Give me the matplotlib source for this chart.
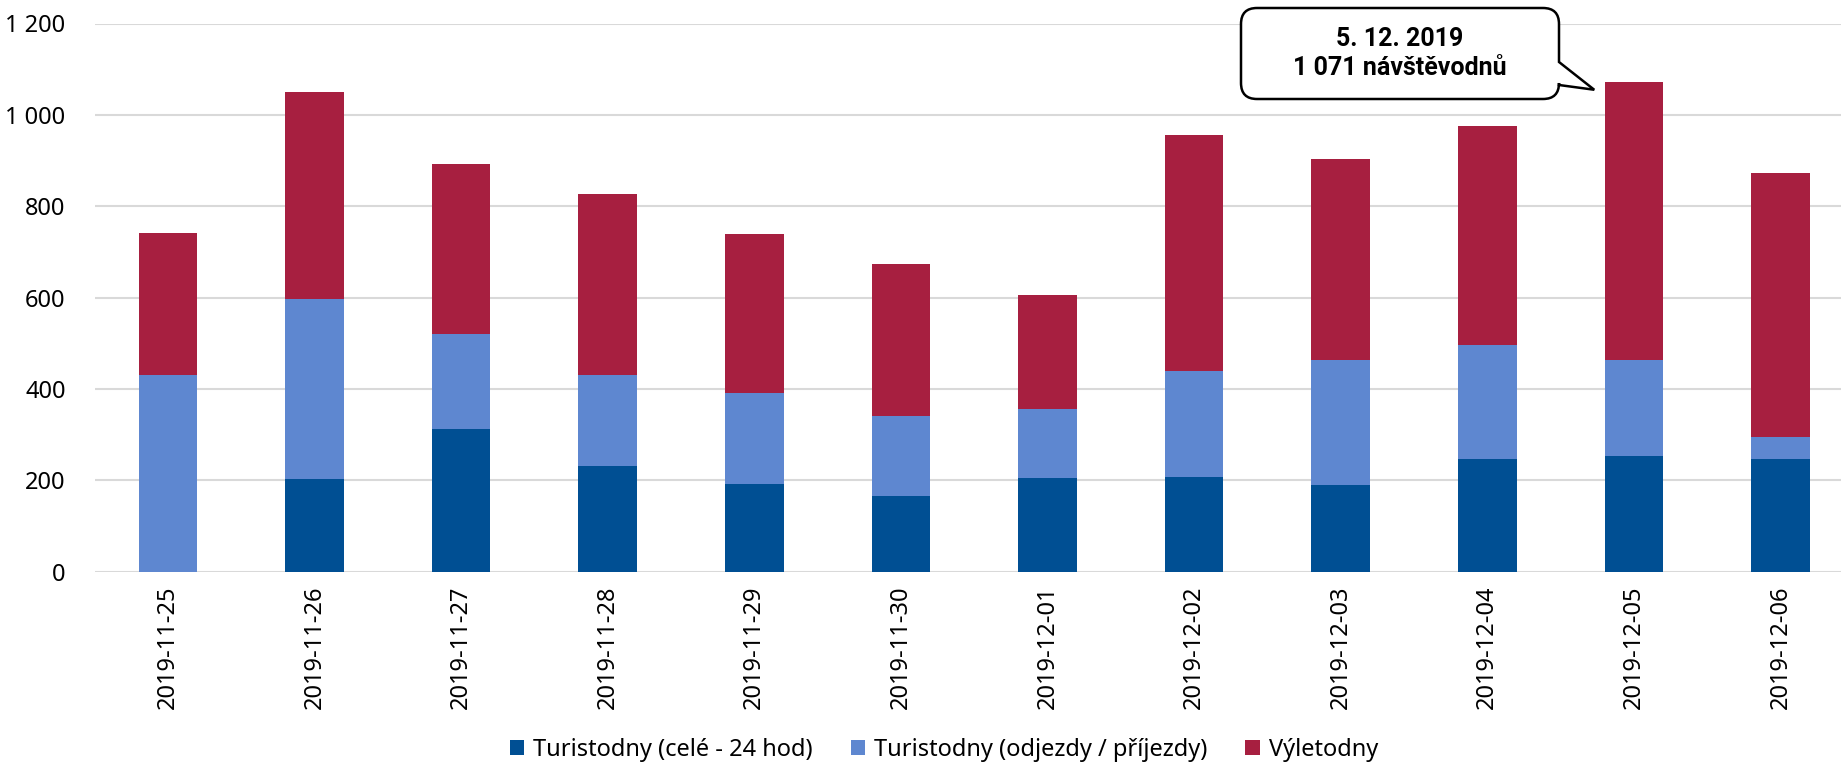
import numpy as np
import matplotlib
matplotlib.use("Agg")
import matplotlib.pyplot as plt
from matplotlib.path import Path
from matplotlib.patches import PathPatch
from matplotlib.ticker import FuncFormatter

plt.rcParams['font.family'] = ['Noto Sans', 'DejaVu Sans']

# data
dny = ["2019-11-25", "2019-11-26", "2019-11-27", "2019-11-28", "2019-11-29", "2019-11-30",
       "2019-12-01", "2019-12-02", "2019-12-03", "2019-12-04", "2019-12-05", "2019-12-06"]
turistodny_cele = [0, 204, 313, 231, 193, 166, 206, 208, 191, 247, 253, 247]
turistodny_odjezdy = [431, 392, 207, 200, 198, 175, 150, 231, 273, 249, 211, 47]
vyletodny = [310, 453, 373, 395, 348, 332, 249, 516, 439, 479, 607, 578]

nazvy = ["Turistodny (celé - 24 hod)", "Turistodny (odjezdy / příjezdy)", "Výletodny"]
barvy = ["#004F93", "#5E87D0", "#A71F40"]

callout_text = "5. 12. 2019\n1 071 návštěvodnů"
callout_idx = 10

W, H = 1841, 767


def formatuj(v, pos):
    return f"{int(v):,}".replace(",", " ")


fig = plt.figure(figsize=(W / 100, H / 100), dpi=100)
ax = fig.add_axes([94.7 / W, 1 - 571.8 / H, 1759 / W, (571.8 - 23.5) / H])

x = np.arange(len(dny))
spodek = np.zeros(len(dny))
for hodnoty, nazev, barva in zip([turistodny_cele, turistodny_odjezdy, vyletodny], nazvy, barvy):
    ax.bar(x, hodnoty, width=0.4, bottom=spodek, color=barva, label=nazev, zorder=3)
    spodek += np.array(hodnoty)

ax.set_xlim(-0.5, len(dny) - 0.5)
ax.set_ylim(0, 1200)
ax.set_yticks(range(0, 1201, 200))
ax.yaxis.set_major_formatter(FuncFormatter(formatuj))
ax.set_xticks(x)
ax.set_xticklabels(dny, rotation=90)
ax.tick_params(axis='both', length=0, labelsize=17, colors='#000000')
ax.tick_params(axis='y', pad=21)
ax.tick_params(axis='x', pad=10)
ax.grid(axis='y', color='#D9D9D9', linewidth=1.5, zorder=0)
for s in ax.spines.values():
    s.set_visible(False)

fig.legend(loc='center', bbox_to_anchor=(944 / W, 1 - 750 / H), ncol=3, frameon=False,
           fontsize=17, handlelength=0.6, handleheight=0.6, handletextpad=0.4, columnspacing=1.6)

# bublina s popiskem (pixely obrazku, y od spodu)
fig.canvas.draw()
tip = ax.transData.transform((callout_idx - 0.27, spodek[callout_idx] - 16))
x0, x1 = 1241, 1559
y0, y1 = H - 99, H - 8
r = 16
b0, b1 = H - 85, H - 62
verts = [
    (x0 + r, y1), (x1 - r, y1), (x1, y1), (x1, y1 - r),
    (x1, b1), tuple(tip), (x1, b0),
    (x1, y0 + r), (x1, y0), (x1 - r, y0),
    (x0 + r, y0), (x0, y0), (x0, y0 + r),
    (x0, y1 - r), (x0, y1), (x0 + r, y1),
    (x0 + r, y1),
]
codes = [Path.MOVETO, Path.LINETO, Path.CURVE3, Path.CURVE3,
         Path.LINETO, Path.LINETO, Path.LINETO,
         Path.LINETO, Path.CURVE3, Path.CURVE3,
         Path.LINETO, Path.CURVE3, Path.CURVE3,
         Path.LINETO, Path.CURVE3, Path.CURVE3,
         Path.CLOSEPOLY]
bublina = PathPatch(Path(verts, codes), facecolor='white', edgecolor='black', linewidth=1.8,
                    transform=None, zorder=10)
fig.patches.append(bublina)
fig.text((x0 + x1) / 2 / W, (y0 + y1) / 2 / H, callout_text, ha='center', va='center',
         fontsize=18, fontweight='bold', family=['Roboto', 'DejaVu Sans'],
         linespacing=1.3, zorder=11)

fig.savefig("out.png", dpi=100)
